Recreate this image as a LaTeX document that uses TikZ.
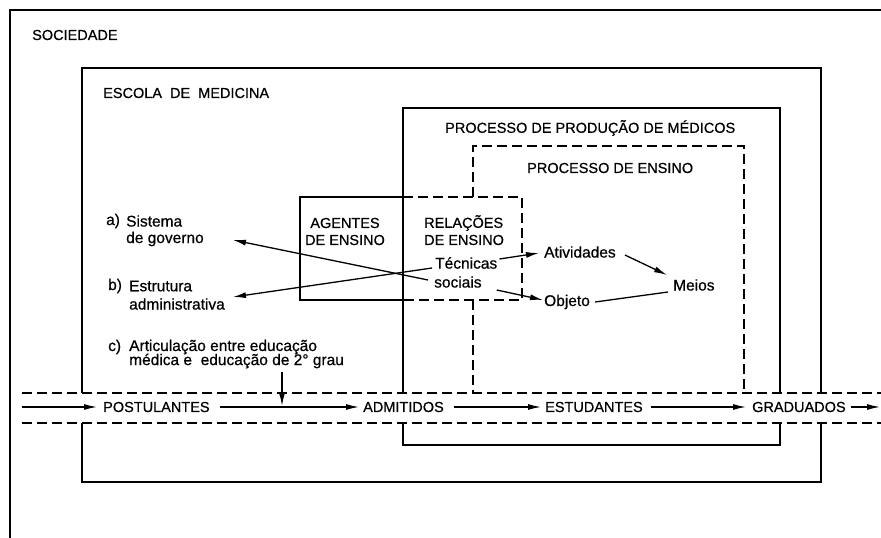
\documentclass[tikz,border=0pt]{standalone}
\usepackage{fontspec}
\setmainfont{Liberation Sans}[FakeBold=0.6]
\usetikzlibrary{arrows.meta,calc}
\begin{document}
\begin{tikzpicture}[x=1pt,y=-1pt,
  captxt/.style={inner sep=0pt,anchor=west,font=\fontsize{14.5}{17}\selectfont},
  lowtxt/.style={inner sep=0pt,anchor=west,font=\fontsize{15.5}{17}\selectfont},
  box/.style={line width=2pt},
  dsh/.style={line width=2pt,dash pattern=on 10pt off 5pt},
  arr/.style={line width=1.3pt,-{Latex[length=13pt,width=6pt]}},
  ln/.style={line width=1.3pt}]
\useasboundingbox (0,0) rectangle (881,538);
% outer society frame
\draw[line width=1.6pt] (10,538) -- (10,10) -- (881,10);
% escola de medicina
\draw[box] (82,393) -- (82,68) -- (821,68) -- (821,393);
\draw[box] (82,423) -- (82,482) -- (821,482) -- (821,423);
% processo de producao
\draw[box] (403,393) -- (403,108) -- (780,108) -- (780,393);
\draw[box] (403,423) -- (403,445) -- (780,445) -- (780,423);
% agentes de ensino
\draw[box] (403,197) -- (300,197) -- (300,300) -- (403,300);
% relacoes de ensino
\draw[dsh] (403,197) -- (522,197) -- (522,300) -- (403,300);
% processo de ensino
\draw[dsh] (473,197) -- (473,146) -- (744,146) -- (744,393);
\draw[dsh] (473,300) -- (473,393);
% channel
\draw[dsh] (22,393) -- (881,393);
\draw[dsh] (22,423) -- (881,423);

% titles
\node[captxt] (soc) at (32,35) {SOCIEDADE};
\node[captxt] (esc) at (103,93) {ESCOLA\ \ DE\ \ MEDICINA};
\node[captxt] (prod) at (445,128) {PROCESSO DE PRODUÇÃO DE MÉDICOS};
\node[captxt] (ens) at (527,168) {PROCESSO DE ENSINO};
\node[captxt,anchor=center] (ag1) at (345,223) {AGENTES};
\node[captxt,anchor=center] (ag2) at (345,240) {DE ENSINO};
\node[captxt] (rel1) at (424,223) {RELAÇÕES};
\node[captxt] (rel2) at (424,240) {DE ENSINO};
\node[lowtxt] (tec) at (435,263) {Técnicas};
\node[lowtxt] (socl) at (434,282) {sociais};
\node[lowtxt] (ati) at (544,252) {Atividades};
\node[lowtxt] (mei) at (673,285) {Meios};
\node[lowtxt] (obj) at (544,302) {Objeto};

\node[lowtxt] (la) at (106,221) {a)};
\node[lowtxt] (sis1) at (126,221) {Sistema};
\node[lowtxt] (sis2) at (126,239) {de governo};
\node[lowtxt] (lb) at (108,286) {b)};
\node[lowtxt] (est1) at (129,286) {Estrutura};
\node[lowtxt] (est2) at (129,304) {administrativa};
\node[lowtxt] (lc) at (108,347) {c)};
\node[lowtxt] (art1) at (129,347) {Articulação entre educação};
\node[lowtxt] (art2) at (129,361) {médica e\ \ educação de 2° grau};

% flow
\node[captxt] (pos) at (103,407) {POSTULANTES};
\node[captxt] (adm) at (363,407) {ADMITIDOS};
\node[captxt] (estu) at (545,407) {ESTUDANTES};
\node[captxt] (gra) at (752,407) {GRADUADOS};
\coordinate (fin) at (22,407);
\coordinate (fout) at (880,407);
\coordinate (cst) at (282,372);
\coordinate (cin) at (282,406);
\coordinate (tipA) at (233,240);
\coordinate (tipB) at (233,297);

\draw[arr] (fin) -- ($(pos.west)+(-6,0)$);
\draw[arr] ($(pos.east)+(10,0)$) -- ($(adm.west)+(-4,0)$);
\draw[arr] ($(adm.east)+(10,0)$) -- ($(estu.west)+(-4,0)$);
\draw[arr] ($(estu.east)+(8,0)$) -- ($(gra.west)+(-6,0)$);
\draw[arr] ($(gra.east)+(5,0)$) -- (fout);
\draw[arr] (cst) -- (cin);

% relations
\draw[arr] ($(socl.west)+(-6,-2)$) -- (tipA);
\draw[arr] ($(tec.west)+(-3,5)$) -- (tipB);
\draw[arr] ($(tec.east)+(2,-4)$) -- ($(ati.west)+(-5,1)$);
\draw[arr] ($(ati.east)+(9,3)$) -- ($(mei.west)+(-6,-10)$);
\draw[ln] ($(mei.west)+(-5,7)$) -- ($(obj.east)+(5,0)$);
\draw[arr] ($(socl.east)+(15,8)$) -- ($(obj.west)+(-1,-2)$);
\end{tikzpicture}
\end{document}
